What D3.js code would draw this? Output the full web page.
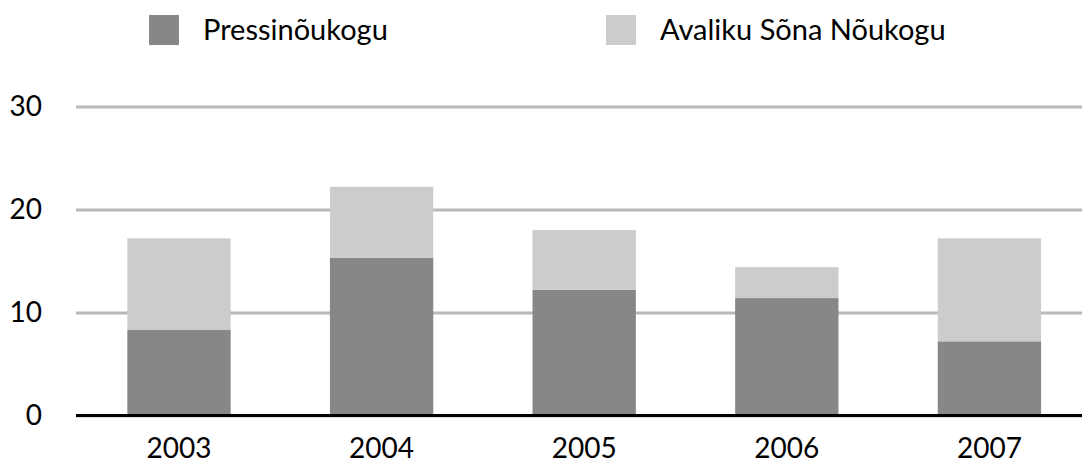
<!DOCTYPE html>
<html>
<head>
<meta charset="utf-8">
<script src="https://cdn.jsdelivr.net/npm/d3@7"></script>
<style>
  body { margin: 0; background: #fff; }
  svg { display: block; font-family: Lato, "Open Sans", sans-serif; }
</style>
</head>
<body>
<svg id="chart" width="1082" height="465"></svg>
<script>
const years = ['2003', '2004', '2005', '2006', '2007'];
const seriesNames = ['Pressinõukogu', 'Avaliku Sõna Nõukogu'];
const pressinoukogu = [8.3, 15.3, 12.2, 11.4, 7.2];
const avalikuSona = [8.9, 6.9, 5.8, 3.0, 10.0];
const yTicks = [0, 10, 20, 30];
const colors = ['#868786', '#cbcccb'];

const svg = d3.select('#chart');
const left = 76, right = 1082;

const rows = years.map((yr, i) => ({ year: yr, a: pressinoukogu[i], b: avalikuSona[i] }));
const stack = d3.stack().keys(['a', 'b'])(rows);

const x = d3.scaleBand()
  .domain(years)
  .range([77.7, 1090.7])
  .paddingInner(0.49)
  .paddingOuter(0.245);

const y = d3.scaleLinear().domain([0, 30]).range([415.5, 106.5]);

// grid + y labels
const yAxis = svg.append('g')
  .attr('transform', `translate(${left},0)`)
  .call(d3.axisLeft(y).tickValues(yTicks).tickSize(-(right - left)).tickPadding(34));
yAxis.select('.domain').remove();
yAxis.selectAll('.tick line')
  .attr('stroke', '#b9b9b9')
  .attr('stroke-width', 3);
yAxis.selectAll('.tick text')
  .attr('font-size', 28)
  .attr('fill', '#000')
  .attr('font-family', 'Lato, sans-serif');

// bars
svg.append('g')
  .selectAll('g')
  .data(stack)
  .join('g')
  .attr('fill', (d, i) => colors[i])
  .selectAll('rect')
  .data(d => d)
  .join('rect')
  .attr('x', d => x(d.data.year))
  .attr('width', x.bandwidth())
  .attr('y', d => y(d[1]))
  .attr('height', d => y(d[0]) - y(d[1]));

// baseline
svg.append('line')
  .attr('x1', left).attr('x2', right)
  .attr('y1', y(0)).attr('y2', y(0))
  .attr('stroke', '#000')
  .attr('stroke-width', 3);

// x labels
const xAxis = svg.append('g')
  .attr('transform', `translate(0,${y(0)})`)
  .call(d3.axisBottom(x).tickSize(0).tickPadding(23));
xAxis.select('.domain').remove();
xAxis.selectAll('.tick text')
  .attr('font-size', 28)
  .attr('fill', '#000')
  .attr('font-family', 'Lato, sans-serif');

// legend
const legendX = [149, 606];
const legend = svg.append('g')
  .selectAll('g')
  .data(seriesNames)
  .join('g')
  .attr('transform', (d, i) => `translate(${legendX[i]},15)`);
legend.append('rect')
  .attr('width', 30).attr('height', 30)
  .attr('fill', (d, i) => colors[i]);
legend.append('text')
  .attr('x', 54).attr('y', 25)
  .attr('font-size', 29)
  .text(d => d);
</script>
</body>
</html>
